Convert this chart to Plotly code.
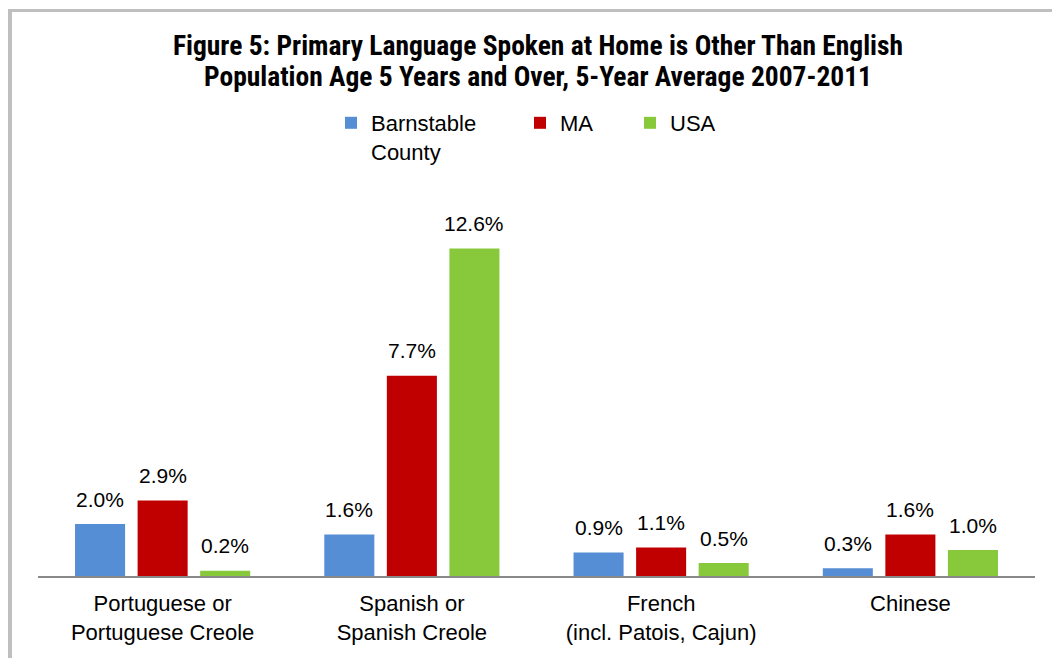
import plotly.graph_objects as go

categories = ["Portuguese or<br>Portuguese Creole", "Spanish or<br>Spanish Creole",
              "French<br>(incl. Patois, Cajun)", "Chinese"]
series_names = ["Barnstable<br>County", "MA", "USA"]
barnstable = [2.0, 1.6, 0.9, 0.3]
ma = [2.9, 7.7, 1.1, 1.6]
usa = [0.2, 12.6, 0.5, 1.0]
colors = ["#558ED5", "#C00000", "#88C93C"]
title_lines = ["Figure 5: Primary Language Spoken at Home is Other Than English",
               "Population Age 5 Years and Over, 5-Year Average 2007-2011"]

L, R, T, B = 38, 17, 212, 82
W, H = 1052, 658
pw, ph = W - L - R, H - T - B
BARGAP, GROUPGAP = 0.247, 0.2
ARIAL = "Liberation Sans, Arial, sans-serif"
NARROW = "Roboto Condensed, Liberation Sans Narrow, Arial Narrow, sans-serif"


def px_x(p):
    return (p - L) / pw


def px_y(p):
    return (H - B - p) / ph


fig = go.Figure()
legend_ids = ["legend", "legend2", "legend3"]
all_series = [barnstable, ma, usa]
for name, vals, col, lg in zip(series_names, all_series, colors, legend_ids):
    fig.add_trace(go.Bar(
        x=categories, y=vals, name=name, marker_color=col,
        marker_line_width=0, showlegend=True, legend=lg,
    ))

# data labels above each bar (positioned by the axis scales, shifted to the bar's group slot)
slot_px = pw / len(categories) * (1 - BARGAP) / len(all_series)
annotations = []
for i, vals in enumerate(all_series):
    for cat, v in zip(categories, vals):
        annotations.append(dict(
            x=cat, y=v, xref="x", yref="y", text=f"{v:.1f}%", showarrow=False,
            xshift=(i - (len(all_series) - 1) / 2) * slot_px, yshift=25, yanchor="middle",
            font=dict(family=ARIAL, size=21, color="#000000"),
        ))
annotations.append(dict(
    text="<b>" + title_lines[1] + "</b>", x=px_x(538), xref="paper", xanchor="center",
    y=px_y(76), yref="paper", yanchor="middle", showarrow=False,
    font=dict(family=NARROW, size=27.5, color="#000000"),
))

legend_common = dict(orientation="h", xanchor="left", yanchor="top", valign="top",
                     font=dict(family=ARIAL, size=22, color="#000000"),
                     bgcolor="rgba(0,0,0,0)", itemwidth=30, visible=True)
legend_y = px_y(102)

fig.update_layout(
    width=W, height=H,
    margin=dict(l=L, r=R, t=T, b=B),
    paper_bgcolor="white", plot_bgcolor="white",
    showlegend=True,
    barmode="group", bargap=BARGAP, bargroupgap=GROUPGAP,
    title=dict(
        text="<b>" + title_lines[0] + "</b>",
        font=dict(family=NARROW, size=27.5, color="#000000"),
        x=px_x(538), xanchor="center", xref="paper", y=1 - 45 / H, yanchor="middle", yref="container",
    ),
    legend=dict(x=px_x(331), y=legend_y, **legend_common),
    legend2=dict(x=px_x(520), y=legend_y, **legend_common),
    legend3=dict(x=px_x(630), y=legend_y, **legend_common),
    xaxis=dict(showline=True, linecolor="#898989", linewidth=2, ticks="",
               tickfont=dict(family=ARIAL, size=22, color="#000000"),
               ticklabelstandoff=7, showgrid=False, zeroline=False),
    yaxis=dict(range=[0, 14], visible=False, showgrid=False, zeroline=False),
    annotations=annotations,
    shapes=[
        dict(type="line", xref="paper", yref="paper", x0=px_x(10), x1=px_x(10),
             y0=px_y(9), y1=px_y(700), line=dict(color="#BFBFBF", width=4)),
        dict(type="line", xref="paper", yref="paper", x0=px_x(8), x1=px_x(1100),
             y0=px_y(10.5), y1=px_y(10.5), line=dict(color="#BFBFBF", width=3)),
    ],
)

fig.write_html("out.html", config={"displayModeBar": False},
               post_script="document.body.style.margin='0';")
